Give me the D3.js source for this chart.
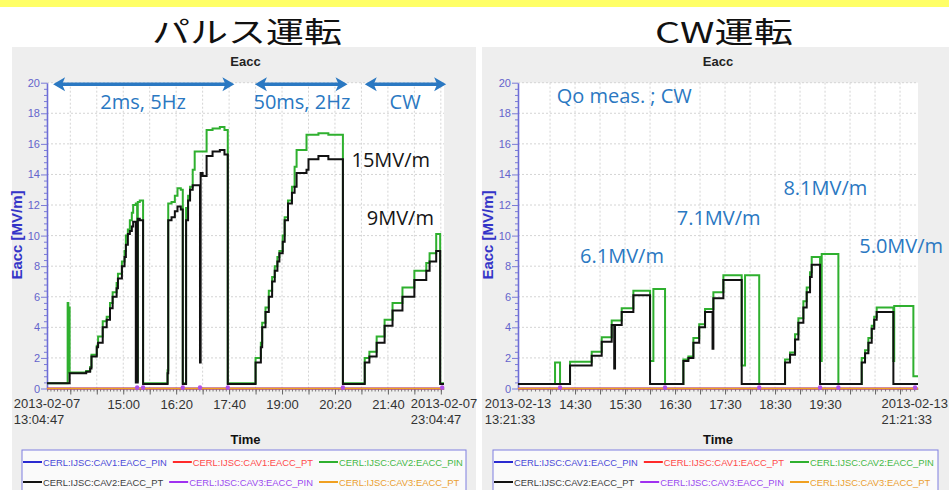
<!DOCTYPE html>
<html>
<head>
<meta charset="utf-8">
<script src="https://cdn.jsdelivr.net/npm/d3@7"></script>
<style>
  body { margin: 0; background: #fff; }
  svg { display: block; }
</style>
</head>
<body>
<svg id="chart" width="949" height="490"></svg>
<script>
// ---------- pulse run (2013-02-07) ----------
const pulseDate = "2013-02-07";
const pulseStart = "13:04:47";
const pulseEnd = "23:04:47";
const pulseTimes = [
  "13:04:47","13:36","13:37","13:39","14:04","14:10","14:12","14:20","14:22","14:29","14:35","14:40","14:44","14:50","14:52","14:58","15:02","15:04","15:07","15:10","15:13","15:15","15:19","15:21","15:22","15:25","15:30",
  "16:07","16:08","16:13","16:18","16:22","16:27","16:30","16:35","16:38","16:41","16:45","16:48","16:56","16:57","17:00","17:06","17:15","17:26","17:33","17:38",
  "18:20","18:28","18:30","18:35","18:40","18:45","18:49","18:53","18:56","19:01","19:04","19:09","19:15","19:19","19:22","19:37","19:40","19:55","20:10","20:32",
  "21:05","21:12","21:23","21:35","21:47","22:02","22:20","22:38","22:43","22:53","22:59","23:04:47"
];
const pulseCav2Pin = [
  0.35,5.6,5.3,1.05,1.15,1.4,2.2,2.8,3.4,4.4,4.7,5.6,6.3,6.9,7.5,8.3,9.0,10.0,10.4,11.0,11.5,12.0,12.1,0.5,12.2,12.3,0.35,
  1.2,12.1,12.2,12.6,13.1,13.0,0.35,11.8,12.6,13.2,14.3,15.5,15.5,15.5,15.5,16.9,17.0,17.1,16.9,0.35,
  2.0,3.0,4.3,5.3,6.4,7.3,8.0,8.6,9.0,10.0,11.2,12.3,13.2,14.5,15.6,16.6,16.6,16.7,16.6,0.35,
  2.0,2.4,3.4,4.5,5.6,6.6,7.7,8.2,8.85,10.1,0.35,0.35
];
const pulseCav2Pt = [
  0.35,0.35,0.35,1.0,1.1,1.3,2.1,2.7,3.0,4.0,4.5,5.25,6.0,6.55,7.2,8.0,8.6,9.4,10.1,10.3,10.6,10.9,0.4,0.4,11.1,11.0,0.3,
  1.0,11.0,11.2,11.6,11.9,11.7,0.3,11.0,12.3,13.0,13.3,13.3,1.7,14.1,13.9,15.2,15.5,15.6,15.3,0.3,
  1.7,2.7,4.0,5.0,6.0,7.0,7.7,8.3,8.85,9.6,11.0,12.1,12.8,13.2,14.1,14.3,15.0,15.2,15.0,0.3,
  1.7,2.1,3.0,4.1,5.1,6.0,7.1,7.7,8.3,9.0,0.3,0.3
];
const pulseTrips = ["15:21","15:30","16:30","16:56","17:38","20:32","23:02"];
const pulseTickLabels = ["15:00","16:20","17:40","19:00","20:20","21:40"];

// ---------- CW run (2013-02-13) ----------
const cwDate = "2013-02-13";
const cwStart = "13:21:33";
const cwEnd = "21:21:33";
const cwTimes = [
  "13:21:33","14:06","14:12","14:24","14:50","15:02","15:14","15:17","15:18","15:26","15:40","16:00","16:04","16:18",
  "16:40","16:46","16:52","16:59","17:06","17:15","17:16","17:28","17:50","17:54","18:11",
  "18:42","18:48","18:54","18:58","19:04","19:08","19:12","19:14","19:24","19:26","19:46",
  "20:14","20:18","20:22","20:26","20:29","20:32","20:52","20:53","21:16","21:21:33"
];
const cwCav2Pin = [
  0.3,1.7,0.3,1.75,2.4,3.35,4.45,4.45,4.45,5.25,6.4,1.8,6.5,0.3,
  1.9,2.1,3.3,4.2,5.2,5.2,6.3,7.4,1.5,7.4,0.3,
  1.9,2.35,3.55,4.6,5.7,6.6,7.6,8.6,1.8,8.8,0.3,
  2.0,2.5,3.3,4.1,4.7,5.3,1.8,5.4,0.8,0.8
];
const cwCav2Pt = [
  0.3,0.3,0.3,1.5,2.15,3.05,4.15,1.3,4.15,5.0,6.1,0.3,0.3,0.3,
  1.8,2.0,3.0,4.0,5.0,2.6,5.9,7.1,0.3,0.3,0.3,
  1.7,2.2,3.2,4.3,5.3,6.3,7.3,8.1,0.3,0.3,0.3,
  1.7,2.3,3.0,3.9,4.5,5.0,0.3,0.3,0.3,0.3
];
const cwTrips = ["14:12","16:18","18:11","19:24","19:46","21:18"];
const cwTickLabels = ["14:30","15:30","16:30","17:30","18:30","19:30"];

// idle cavities sit at zero from start to end
const idleLevel = [0, 0];

// ---------- shared ----------
const yTicks = [0, 2, 4, 6, 8, 10, 12, 14, 16, 18, 20];
const seriesNames = [
  "CERL:IJSC:CAV1:EACC_PIN", "CERL:IJSC:CAV1:EACC_PT", "CERL:IJSC:CAV2:EACC_PIN",
  "CERL:IJSC:CAV2:EACC_PT", "CERL:IJSC:CAV3:EACC_PIN", "CERL:IJSC:CAV3:EACC_PT"
];
const seriesColors = ["#2a2ad0", "#ff2a2a", "#2fb02f", "#111111", "#a030f0", "#f0a020"];
const legendTextColors = ["#4a4ad8", "#ff4a4a", "#45b845", "#404040", "#9a4af0", "#eaa030"];

// annotation text and arrows, anchored in data units
const pulseArrows = [
  { from: "13:14", to: "17:48", value: 19.9 },
  { from: "18:19", to: "20:39", value: 19.9 },
  { from: "21:05", to: "23:08", value: 19.9 }
];
const pulseNotes = [
  { text: "2ms, 5Hz", time: "15:30", value: 18.25, anchor: "middle", ink: "blue" },
  { text: "50ms, 2Hz", time: "19:30", value: 18.25, anchor: "middle", ink: "blue" },
  { text: "CW", time: "22:06", value: 18.25, anchor: "middle", ink: "blue" },
  { text: "15MV/m", time: "20:45", value: 14.5, anchor: "start", ink: "black" },
  { text: "9MV/m", time: "21:08", value: 10.7, anchor: "start", ink: "black" }
];
const cwArrows = [];
const cwNotes = [
  { text: "Qo meas. ; CW", time: "14:08", value: 18.65, anchor: "start", ink: "blue" },
  { text: "6.1MV/m", time: "14:36", value: 8.2, anchor: "start", ink: "blue" },
  { text: "7.1MV/m", time: "16:32", value: 10.7, anchor: "start", ink: "blue" },
  { text: "8.1MV/m", time: "18:40", value: 12.65, anchor: "start", ink: "blue" },
  { text: "5.0MV/m", time: "20:11", value: 8.85, anchor: "start", ink: "blue" }
];

const parseFull = d3.timeParse("%Y-%m-%d %H:%M:%S");
const at = (date, t) => parseFull(`${date} ${t.length === 5 ? t + ":00" : t}`);

const panels = [
  {
    title: "パルス運転", titleX: 247, titleLen: 190,
    bgX: [12, 476], plotX: [47, 444], legendX: [22, 466],
    date: pulseDate, start: pulseStart, end: pulseEnd,
    times: pulseTimes, pin: pulseCav2Pin, pt: pulseCav2Pt, trips: pulseTrips,
    gridFrom: "13:40", gridStep: 40, tickLabels: pulseTickLabels,
    arrows: pulseArrows, notes: pulseNotes
  },
  {
    title: "CW運転", titleX: 724, titleLen: 138,
    bgX: [482, 949], plotX: [518, 918], legendX: [493, 938],
    date: cwDate, start: cwStart, end: cwEnd,
    times: cwTimes, pin: cwCav2Pin, pt: cwCav2Pt, trips: cwTrips,
    gridFrom: "14:00", gridStep: 30, tickLabels: cwTickLabels,
    arrows: cwArrows, notes: cwNotes
  }
];

const svg = d3.select("#chart");
const pageWidth = 949;

// yellow band along the top
svg.append("rect").attr("x", 0).attr("y", 0).attr("width", pageWidth).attr("height", 7).attr("fill", "#ffff66");

const plotTop = 82.7, plotBottom = 388.5;
const y = d3.scaleLinear().domain([0, 20]).range([plotBottom, plotTop]);

panels.forEach(p => {
  const g = svg.append("g");
  const t0 = at(p.date, p.start), t1 = at(p.date, p.end);
  const x = d3.scaleTime().domain([t0, t1]).range(p.plotX);
  const midX = (p.plotX[0] + p.plotX[1]) / 2;

  // big heading
  svg.append("text")
    .attr("x", p.titleX).attr("y", 43)
    .attr("text-anchor", "middle")
    .attr("font-family", "'Noto Sans CJK JP', 'Noto Sans', sans-serif")
    .attr("font-size", 29)
    .attr("textLength", p.titleLen).attr("lengthAdjust", "spacingAndGlyphs")
    .attr("fill", "#111")
    .text(p.title);

  // panel and plot backgrounds
  g.append("rect").attr("x", p.bgX[0]).attr("y", 47)
    .attr("width", p.bgX[1] - p.bgX[0]).attr("height", 443).attr("fill", "#eeeeee");
  g.append("rect").attr("x", p.plotX[0]).attr("y", plotTop)
    .attr("width", p.plotX[1] - p.plotX[0]).attr("height", plotBottom - plotTop).attr("fill", "#ffffff");

  // grid
  const gridTimes = d3.timeMinute.every(1).range(at(p.date, p.gridFrom), t1)
    .filter((d, i) => i % p.gridStep === 0);
  g.append("g").selectAll("line").data(yTicks.filter(v => v > 0)).join("line")
    .attr("x1", p.plotX[0]).attr("x2", p.plotX[1])
    .attr("y1", d => y(d)).attr("y2", d => y(d))
    .attr("stroke", "#d4d4d4").attr("stroke-dasharray", "2,2");
  g.append("g").selectAll("line").data(gridTimes).join("line")
    .attr("x1", d => x(d)).attr("x2", d => x(d))
    .attr("y1", plotTop).attr("y2", plotBottom)
    .attr("stroke", "#d4d4d4").attr("stroke-dasharray", "2,2");

  // x axis: minor ticks, major ticks, labels
  const xAxisG = g.append("g").attr("transform", `translate(0,${plotBottom})`);
  const minorTimes = d3.timeMinute.every(1).range(t0, t1).filter((d, i) => i % 5 === 0);
  xAxisG.append("g")
    .call(d3.axisBottom(x).tickValues(minorTimes).tickSize(3).tickSizeOuter(0).tickFormat(""))
    .call(a => a.selectAll("line").attr("stroke", "#777"))
    .call(a => a.select(".domain").attr("stroke", "#777"));
  const labelTimes = p.tickLabels.map(s => at(p.date, s));
  xAxisG.append("g")
    .call(d3.axisBottom(x).tickValues(gridTimes).tickSize(6).tickSizeOuter(0).tickFormat(""))
    .call(a => a.selectAll("line").attr("stroke", "#666"))
    .call(a => a.select(".domain").remove());
  xAxisG.append("g")
    .call(d3.axisBottom(x).tickValues(labelTimes).tickSize(0).tickPadding(11)
      .tickFormat(d3.timeFormat("%H:%M")))
    .call(a => a.select(".domain").remove())
    .call(a => a.selectAll("text")
      .attr("font-family", "'Liberation Sans', Arial, sans-serif")
      .attr("font-size", 13).attr("fill", "#333"));

  // two-line labels at both ends of the time axis, kept inside the page
  [[t0, p.start], [t1, p.end]].forEach(([t, clock]) => {
    const top = g.append("text")
      .attr("x", x(t)).attr("y", 408)
      .attr("text-anchor", "middle")
      .attr("font-family", "'Liberation Sans', Arial, sans-serif")
      .attr("font-size", 13).attr("fill", "#333")
      .text(p.date);
    const box = top.node().getBBox();
    const overflow = Math.max(0, box.x + box.width - (pageWidth - 1));
    if (overflow > 0) top.attr("x", x(t) - overflow);
    const left = box.x - overflow;
    g.append("text")
      .attr("x", left).attr("y", 424)
      .attr("font-family", "'Liberation Sans', Arial, sans-serif")
      .attr("font-size", 13).attr("fill", "#333")
      .text(clock);
  });

  // y axis
  const yAxisG = g.append("g").attr("transform", `translate(${p.plotX[0]},0)`);
  const minorY = d3.range(0, 20.01, 0.4).filter(v => Math.abs(v / 2 - Math.round(v / 2)) > 0.01);
  yAxisG.append("g")
    .call(d3.axisLeft(y).tickValues(minorY).tickSize(3).tickSizeOuter(0).tickFormat(""))
    .call(a => a.selectAll("line").attr("stroke", "#7a7ad8"))
    .call(a => a.select(".domain").attr("stroke", "#6e6ed6").attr("stroke-width", 1.6));
  yAxisG.append("g")
    .call(d3.axisLeft(y).tickValues(yTicks).tickSize(6).tickPadding(1).tickFormat(d3.format("d")))
    .call(a => a.select(".domain").remove())
    .call(a => a.selectAll("line").attr("stroke", "#7a7ad8"))
    .call(a => a.selectAll("text")
      .attr("font-family", "'Liberation Sans', Arial, sans-serif")
      .attr("font-size", 11).attr("fill", "#6464cc"));

  // series
  const line = d3.line().x(d => x(d.t)).y(d => y(d.v)).curve(d3.curveStepAfter);
  const idle = [t0, t1].map((t, i) => ({ t, v: idleLevel[i] }));
  const pinPts = p.times.map((s, i) => ({ t: at(p.date, s), v: p.pin[i] }));
  const ptPts = p.times.map((s, i) => ({ t: at(p.date, s), v: p.pt[i] }));
  const seriesData = [idle, idle, pinPts, ptPts, idle];
  seriesData.forEach((pts, i) => {
    g.append("path").datum(pts).attr("d", line)
      .attr("fill", "none").attr("stroke", seriesColors[i])
      .attr("stroke-width", i === 2 || i === 3 ? 2 : 1.5)
      .attr("stroke-linejoin", "miter");
  });
  g.append("path").datum(idle).attr("d", line)
    .attr("fill", "none").attr("stroke", seriesColors[5]).attr("stroke-width", 1.5);

  // cavity-3 trip markers on the zero line
  g.append("g").selectAll("circle").data(p.trips).join("circle")
    .attr("cx", d => x(at(p.date, d))).attr("cy", y(0) - 1)
    .attr("r", 2.2).attr("fill", "#b050e8");

  // chart title and axis titles
  g.append("text").attr("x", midX).attr("y", 66).attr("text-anchor", "middle")
    .attr("font-family", "'Liberation Sans', Arial, sans-serif")
    .attr("font-size", 13).attr("font-weight", "bold").attr("fill", "#222").text("Eacc");
  g.append("text").attr("x", midX).attr("y", 444).attr("text-anchor", "middle")
    .attr("font-family", "'Liberation Sans', Arial, sans-serif")
    .attr("font-size", 13).attr("font-weight", "bold").attr("fill", "#111").text("Time");
  g.append("text")
    .attr("transform", `translate(${p.plotX[0] - 25},235) rotate(-90)`)
    .attr("text-anchor", "middle")
    .attr("font-family", "'Liberation Sans', Arial, sans-serif")
    .attr("font-size", 15).attr("font-weight", "bold").attr("fill", "#3434c8")
    .text("Eacc [MV/m]");

  // annotation arrows
  const blue = "#2a78c2";
  p.arrows.forEach(a => {
    const xa = x(at(p.date, a.from)), xb = x(at(p.date, a.to)), ya = y(a.value);
    const head = 12, half = 7;
    g.append("line").attr("x1", xa + 4).attr("x2", xb - 4).attr("y1", ya).attr("y2", ya)
      .attr("stroke", blue).attr("stroke-width", 3.5);
    g.append("path")
      .attr("d", `M${xa},${ya} L${xa + head},${ya - half} L${xa + head - 3},${ya} L${xa + head},${ya + half} Z`)
      .attr("fill", blue);
    g.append("path")
      .attr("d", `M${xb},${ya} L${xb - head},${ya - half} L${xb - head + 3},${ya} L${xb - head},${ya + half} Z`)
      .attr("fill", blue);
  });

  // annotation text
  p.notes.forEach(n => {
    g.append("text")
      .attr("x", x(at(p.date, n.time))).attr("y", y(n.value))
      .attr("text-anchor", n.anchor)
      .attr("font-family", "'Open Sans', 'Noto Sans', sans-serif")
      .attr("font-size", 20)
      .attr("fill", n.ink === "blue" ? blue : "#151515")
      .text(n.text);
  });

  // legend
  const lx0 = p.legendX[0], lx1 = p.legendX[1];
  g.append("rect").attr("x", lx0).attr("y", 450).attr("width", lx1 - lx0).attr("height", 60)
    .attr("fill", "#fafafa").attr("stroke", "#7f7fe0").attr("stroke-width", 1);
  const rows = [seriesNames.slice(0, 3), seriesNames.slice(3)];
  rows.forEach((names, r) => {
    let cx = lx0 + 1;
    const cy = 462 + r * 20;
    names.forEach((name, k) => {
      const idx = r * 3 + k;
      g.append("line").attr("x1", cx).attr("x2", cx + 19).attr("y1", cy).attr("y2", cy)
        .attr("stroke", seriesColors[idx]).attr("stroke-width", 2);
      const tx = g.append("text").attr("x", cx + 20).attr("y", cy + 3.5)
        .attr("font-family", "'Liberation Sans', Arial, sans-serif")
        .attr("font-size", 9.4).attr("fill", legendTextColors[idx]).text(name);
      cx += 20 + tx.node().getComputedTextLength() + 6;
    });
  });
});
</script>
</body>
</html>
